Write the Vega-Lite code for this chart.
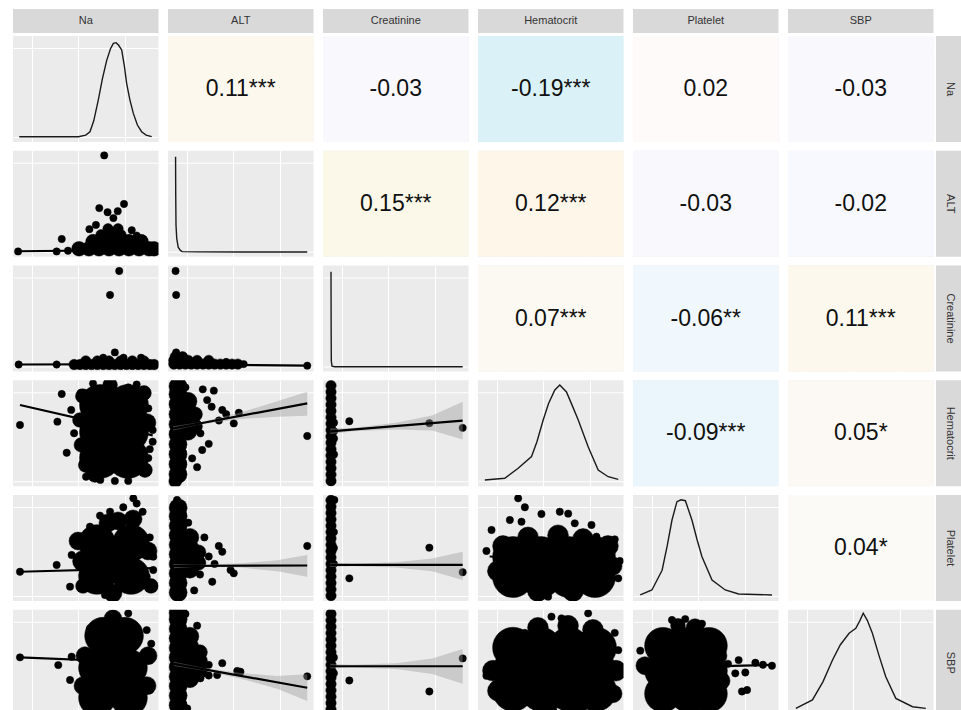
{
"$schema":"https://vega.github.io/schema/vega-lite/v6.json",
"padding":{"left":13,"top":9,"right":0,"bottom":0},
"background":"#FFFFFF",
"config":{"view":{"stroke":null},"axis":{"labels":false,"ticks":false,"domain":false,"grid":true,"gridColor":"#FFFFFF","gridWidth":1,"zindex":0}},
"spacing":3,
"vconcat":[
{"data":{"values":[{"v":"Na"},{"v":"ALT"},{"v":"Creatinine"},{"v":"Hematocrit"},{"v":"Platelet"},{"v":"SBP"}]},
 "facet":{"column":{"field":"v","sort":["Na","ALT","Creatinine","Hematocrit","Platelet","SBP"],"header":null}},
 "spacing":{"column":9},
 "spec":{"width":145.5,"height":24,"view":{"fill":"#D9D9D9","stroke":null},
  "mark":{"type":"text","font":"Liberation Sans","fontSize":11,"color":"#333333"},
  "encoding":{"text":{"field":"v"}}}},
{"hconcat":[
 {"data":{"name":"pairs"},
  "facet":{"row":{"field":"r","sort":["Na","ALT","Creatinine","Hematocrit","Platelet","SBP"],"header":null},
           "column":{"field":"c","sort":["Na","ALT","Creatinine","Hematocrit","Platelet","SBP"],"header":null}},
  "spacing":{"row":8.75,"column":9},
  "resolve":{"axis":{"x":"independent","y":"independent"}},
  "spec":{"width":145.5,"height":106,"view":{"fill":"#EBEBEB","stroke":null},
   "layer":[
    {"transform":[{"filter":"datum.t === 'p'"}],
     "mark":{"type":"point","shape":"circle","filled":true,"fill":"#000000","stroke":"#000000","strokeWidth":0.5,"opacity":1,"fillOpacity":1,"clip":true},
     "encoding":{
      "x":{"field":"x","type":"quantitative","title":null,"scale":{"domain":[0,100],"nice":false,"zero":false},"axis":{"title":null,"values":[13,29,45,61,77,93],"zindex":0}},
      "y":{"field":"y","type":"quantitative","title":null,"scale":{"domain":[0,100],"nice":false,"zero":false},"axis":{"title":null,"values":[5,19,33,47,61,75,89],"zindex":0}},
      "size":{"field":"n","type":"quantitative","legend":null,"scale":{"type":"linear","domain":[0,100],"range":[0,5400],"zero":true}}}},
    {"transform":[{"filter":"datum.t === 'b'"}],
     "mark":{"type":"area","color":"#999999","opacity":0.4,"clip":true},
     "encoding":{
      "x":{"field":"x","type":"quantitative","title":null},
      "y":{"field":"lo","type":"quantitative","title":null},
      "y2":{"field":"hi"}}},
    {"transform":[{"filter":"datum.t === 'l'"}],
     "mark":{"type":"line","color":"#000000","strokeWidth":2.2,"clip":true},
     "encoding":{
      "x":{"field":"x","type":"quantitative","title":null},
      "y":{"field":"y","type":"quantitative","title":null}}},
    {"transform":[{"filter":"datum.t === 'd'"}],
     "mark":{"type":"line","color":"#1A1A1A","strokeWidth":1.4,"clip":true},
     "encoding":{
      "x":{"field":"x","type":"quantitative","title":null},
      "y":{"field":"y","type":"quantitative","title":null}}},
    {"transform":[{"filter":"datum.t === 'c'"}],
     "mark":{"type":"rect"},
     "encoding":{
      "x":{"datum":0,"type":"quantitative"},
      "x2":{"datum":100},
      "y":{"datum":0,"type":"quantitative"},
      "y2":{"datum":100},
      "fill":{"field":"corr","type":"quantitative","legend":null,
        "scale":{"domain":[-0.19,-0.09,-0.06,-0.03,-0.02,0.02,0.04,0.05,0.07,0.11,0.12,0.15],
                 "range":["#DBF1F8","#EAF6FB","#F0F8FD","#F8F8FD","#F8F9FE","#FEFAF9","#FCFAF7","#FCF9F5","#FBF9F1","#FDF8EE","#FDF6E9","#FBF8E9"]}}}},
    {"transform":[{"filter":"datum.t === 'c'"}],
     "mark":{"type":"text","font":"Liberation Sans","fontSize":23,"color":"#111111"},
     "encoding":{
      "x":{"datum":50,"type":"quantitative"},
      "y":{"datum":50,"type":"quantitative"},
      "text":{"field":"lab"}}}
   ]}},
 {"data":{"values":[{"v":"Na"},{"v":"ALT"},{"v":"Creatinine"},{"v":"Hematocrit"},{"v":"Platelet"},{"v":"SBP"}]},
  "facet":{"row":{"field":"v","sort":["Na","ALT","Creatinine","Hematocrit","Platelet","SBP"],"header":null}},
  "spacing":{"row":8.75},
  "spec":{"width":28,"height":106,"view":{"fill":"#D9D9D9","stroke":null},
   "mark":{"type":"text","font":"Liberation Sans","fontSize":11,"color":"#333333","angle":90},
   "encoding":{"text":{"field":"v"}}}}
 ],"spacing":2}
],
"datasets":{"pairs":[
{"r":"Na","c":"ALT","t":"c","corr":0.11,"lab":"0.11***"},
{"r":"Na","c":"Creatinine","t":"c","corr":-0.03,"lab":"-0.03"},
{"r":"Na","c":"Hematocrit","t":"c","corr":-0.19,"lab":"-0.19***"},
{"r":"Na","c":"Platelet","t":"c","corr":0.02,"lab":"0.02"},
{"r":"Na","c":"SBP","t":"c","corr":-0.03,"lab":"-0.03"},
{"r":"ALT","c":"Creatinine","t":"c","corr":0.15,"lab":"0.15***"},
{"r":"ALT","c":"Hematocrit","t":"c","corr":0.12,"lab":"0.12***"},
{"r":"ALT","c":"Platelet","t":"c","corr":-0.03,"lab":"-0.03"},
{"r":"ALT","c":"SBP","t":"c","corr":-0.02,"lab":"-0.02"},
{"r":"Creatinine","c":"Hematocrit","t":"c","corr":0.07,"lab":"0.07***"},
{"r":"Creatinine","c":"Platelet","t":"c","corr":-0.06,"lab":"-0.06**"},
{"r":"Creatinine","c":"SBP","t":"c","corr":0.11,"lab":"0.11***"},
{"r":"Hematocrit","c":"Platelet","t":"c","corr":-0.09,"lab":"-0.09***"},
{"r":"Hematocrit","c":"SBP","t":"c","corr":0.05,"lab":"0.05*"},
{"r":"Platelet","c":"SBP","t":"c","corr":0.04,"lab":"0.04*"},

{"r":"Na","c":"Na","t":"d","x":4.3,"y":5},{"r":"Na","c":"Na","t":"d","x":45,"y":5},{"r":"Na","c":"Na","t":"d","x":50,"y":6.5},{"r":"Na","c":"Na","t":"d","x":52.9,"y":9.7},{"r":"Na","c":"Na","t":"d","x":55.5,"y":20},{"r":"Na","c":"Na","t":"d","x":58.6,"y":39.6},{"r":"Na","c":"Na","t":"d","x":61.5,"y":60},{"r":"Na","c":"Na","t":"d","x":64.4,"y":77},{"r":"Na","c":"Na","t":"d","x":67,"y":88},{"r":"Na","c":"Na","t":"d","x":69,"y":93},{"r":"Na","c":"Na","t":"d","x":70.8,"y":93.7},{"r":"Na","c":"Na","t":"d","x":72.5,"y":91.5},{"r":"Na","c":"Na","t":"d","x":74.7,"y":86.8},{"r":"Na","c":"Na","t":"d","x":76.5,"y":72},{"r":"Na","c":"Na","t":"d","x":78.1,"y":55.4},{"r":"Na","c":"Na","t":"d","x":80.3,"y":40},{"r":"Na","c":"Na","t":"d","x":82.7,"y":27},{"r":"Na","c":"Na","t":"d","x":85.5,"y":16},{"r":"Na","c":"Na","t":"d","x":88.4,"y":9.7},{"r":"Na","c":"Na","t":"d","x":91.5,"y":6.5},{"r":"Na","c":"Na","t":"d","x":95.3,"y":5},
{"r":"ALT","c":"ALT","t":"d","x":5.2,"y":94.4},{"r":"ALT","c":"ALT","t":"d","x":5.3,"y":60},{"r":"ALT","c":"ALT","t":"d","x":5.5,"y":30},{"r":"ALT","c":"ALT","t":"d","x":6,"y":17.4},{"r":"ALT","c":"ALT","t":"d","x":7,"y":9},{"r":"ALT","c":"ALT","t":"d","x":8.5,"y":6},{"r":"ALT","c":"ALT","t":"d","x":9.8,"y":4.8},{"r":"ALT","c":"ALT","t":"d","x":20,"y":4.6},{"r":"ALT","c":"ALT","t":"d","x":50,"y":4.5},{"r":"ALT","c":"ALT","t":"d","x":95.7,"y":4.5},
{"r":"Creatinine","c":"Creatinine","t":"d","x":5.5,"y":94},{"r":"Creatinine","c":"Creatinine","t":"d","x":5.6,"y":40},{"r":"Creatinine","c":"Creatinine","t":"d","x":5.7,"y":10},{"r":"Creatinine","c":"Creatinine","t":"d","x":6.2,"y":5},{"r":"Creatinine","c":"Creatinine","t":"d","x":8,"y":4.5},{"r":"Creatinine","c":"Creatinine","t":"d","x":96,"y":4.5},
{"r":"Hematocrit","c":"Hematocrit","t":"d","x":4.7,"y":5.9},{"r":"Hematocrit","c":"Hematocrit","t":"d","x":18.4,"y":7.5},{"r":"Hematocrit","c":"Hematocrit","t":"d","x":27.6,"y":17},{"r":"Hematocrit","c":"Hematocrit","t":"d","x":36.8,"y":28},{"r":"Hematocrit","c":"Hematocrit","t":"d","x":40.5,"y":42},{"r":"Hematocrit","c":"Hematocrit","t":"d","x":44.8,"y":62.5},{"r":"Hematocrit","c":"Hematocrit","t":"d","x":48.5,"y":78},{"r":"Hematocrit","c":"Hematocrit","t":"d","x":52.8,"y":90.8},{"r":"Hematocrit","c":"Hematocrit","t":"d","x":56.2,"y":95.5},{"r":"Hematocrit","c":"Hematocrit","t":"d","x":60.8,"y":89},{"r":"Hematocrit","c":"Hematocrit","t":"d","x":64.5,"y":77},{"r":"Hematocrit","c":"Hematocrit","t":"d","x":68.9,"y":62.5},{"r":"Hematocrit","c":"Hematocrit","t":"d","x":75.7,"y":37.3},{"r":"Hematocrit","c":"Hematocrit","t":"d","x":82.6,"y":15.3},{"r":"Hematocrit","c":"Hematocrit","t":"d","x":89.5,"y":9},{"r":"Hematocrit","c":"Hematocrit","t":"d","x":96.4,"y":6.5},
{"r":"Platelet","c":"Platelet","t":"d","x":5,"y":5.7},{"r":"Platelet","c":"Platelet","t":"d","x":13,"y":10.4},{"r":"Platelet","c":"Platelet","t":"d","x":20,"y":29},{"r":"Platelet","c":"Platelet","t":"d","x":23.5,"y":52},{"r":"Platelet","c":"Platelet","t":"d","x":26.8,"y":76.4},{"r":"Platelet","c":"Platelet","t":"d","x":30.2,"y":93.7},{"r":"Platelet","c":"Platelet","t":"d","x":33,"y":95.5},{"r":"Platelet","c":"Platelet","t":"d","x":36,"y":94.6},{"r":"Platelet","c":"Platelet","t":"d","x":40.5,"y":76.4},{"r":"Platelet","c":"Platelet","t":"d","x":44,"y":58},{"r":"Platelet","c":"Platelet","t":"d","x":47.4,"y":41.8},{"r":"Platelet","c":"Platelet","t":"d","x":54.3,"y":19.8},{"r":"Platelet","c":"Platelet","t":"d","x":63.4,"y":10.4},{"r":"Platelet","c":"Platelet","t":"d","x":72.6,"y":6.6},{"r":"Platelet","c":"Platelet","t":"d","x":95.5,"y":5.7},
{"r":"SBP","c":"SBP","t":"d","x":5.4,"y":7},{"r":"SBP","c":"SBP","t":"d","x":16.8,"y":14.9},{"r":"SBP","c":"SBP","t":"d","x":24,"y":32},{"r":"SBP","c":"SBP","t":"d","x":30.6,"y":52.6},{"r":"SBP","c":"SBP","t":"d","x":36,"y":67},{"r":"SBP","c":"SBP","t":"d","x":42,"y":77.8},{"r":"SBP","c":"SBP","t":"d","x":46.6,"y":82.5},{"r":"SBP","c":"SBP","t":"d","x":49.5,"y":90},{"r":"SBP","c":"SBP","t":"d","x":51.7,"y":96.7},{"r":"SBP","c":"SBP","t":"d","x":54.5,"y":90},{"r":"SBP","c":"SBP","t":"d","x":58,"y":77.8},{"r":"SBP","c":"SBP","t":"d","x":62.5,"y":57},{"r":"SBP","c":"SBP","t":"d","x":67.2,"y":36.8},{"r":"SBP","c":"SBP","t":"d","x":74.1,"y":16.4},{"r":"SBP","c":"SBP","t":"d","x":85.6,"y":8.5},{"r":"SBP","c":"SBP","t":"d","x":94.7,"y":7},

{"r":"ALT","c":"Na","t":"p","x":62.7,"y":95.6,"n":1},{"r":"ALT","c":"Na","t":"p","x":59.3,"y":45.9,"n":1},{"r":"ALT","c":"Na","t":"p","x":76.3,"y":49.8,"n":1},{"r":"ALT","c":"Na","t":"p","x":69,"y":36.5,"n":1},{"r":"ALT","c":"Na","t":"p","x":52.5,"y":26,"n":1},{"r":"ALT","c":"Na","t":"p","x":33.5,"y":16.7,"n":1},{"r":"ALT","c":"Na","t":"p","x":81.6,"y":25,"n":1},{"r":"ALT","c":"Na","t":"p","x":89.6,"y":16.5,"n":1},{"r":"ALT","c":"Na","t":"p","x":3.5,"y":5,"n":1},{"r":"ALT","c":"Na","t":"p","x":30,"y":5,"n":1},{"r":"ALT","c":"Na","t":"p","x":65,"y":42,"n":1},{"r":"ALT","c":"Na","t":"p","x":72,"y":43,"n":1},{"r":"ALT","c":"Na","t":"p","x":57,"y":30,"n":1},{"r":"ALT","c":"Na","t":"p","x":85,"y":20,"n":1},{"r":"ALT","c":"Na","t":"p","x":37.8,"y":5.7,"n":1},{"r":"ALT","c":"Na","t":"p","x":44,"y":6,"n":1},
{"r":"ALT","c":"Na","t":"p","x":45.4,"y":7.5,"n":4},{"r":"ALT","c":"Na","t":"p","x":52.2,"y":7.5,"n":4},{"r":"ALT","c":"Na","t":"p","x":59.1,"y":7.5,"n":4},{"r":"ALT","c":"Na","t":"p","x":66,"y":7.5,"n":4},{"r":"ALT","c":"Na","t":"p","x":72.9,"y":7.5,"n":4},{"r":"ALT","c":"Na","t":"p","x":79.7,"y":7.5,"n":4},{"r":"ALT","c":"Na","t":"p","x":86.6,"y":7.5,"n":4},{"r":"ALT","c":"Na","t":"p","x":93.5,"y":7.5,"n":4},{"r":"ALT","c":"Na","t":"p","x":96.9,"y":7.5,"n":4},
{"r":"ALT","c":"Na","t":"p","x":55,"y":14.2,"n":4},{"r":"ALT","c":"Na","t":"p","x":63.2,"y":14.2,"n":4},{"r":"ALT","c":"Na","t":"p","x":71.5,"y":14.2,"n":4},{"r":"ALT","c":"Na","t":"p","x":79.7,"y":14.2,"n":4},{"r":"ALT","c":"Na","t":"p","x":88,"y":14.2,"n":4},
{"r":"ALT","c":"Na","t":"p","x":60.5,"y":20.8,"n":2},{"r":"ALT","c":"Na","t":"p","x":67.4,"y":20.8,"n":2},{"r":"ALT","c":"Na","t":"p","x":74.2,"y":20.8,"n":2},{"r":"ALT","c":"Na","t":"p","x":65.3,"y":26.4,"n":2},{"r":"ALT","c":"Na","t":"p","x":72.2,"y":26.4,"n":2},
{"r":"ALT","c":"Na","t":"l","x":3.5,"y":5.2},{"r":"ALT","c":"Na","t":"l","x":97,"y":6.5},

{"r":"Creatinine","c":"Na","t":"p","x":73,"y":94.8,"n":1},{"r":"Creatinine","c":"Na","t":"p","x":66.7,"y":72.2,"n":1},{"r":"Creatinine","c":"Na","t":"p","x":70,"y":18,"n":1},{"r":"Creatinine","c":"Na","t":"p","x":3.9,"y":6.6,"n":1},{"r":"Creatinine","c":"Na","t":"p","x":30,"y":6.6,"n":1},{"r":"Creatinine","c":"Na","t":"p","x":62,"y":13,"n":1},{"r":"Creatinine","c":"Na","t":"p","x":76,"y":13,"n":1},{"r":"Creatinine","c":"Na","t":"p","x":88,"y":13,"n":1},
{"r":"Creatinine","c":"Na","t":"p","x":42,"y":6.6,"n":2},{"r":"Creatinine","c":"Na","t":"p","x":46,"y":6.6,"n":2},{"r":"Creatinine","c":"Na","t":"p","x":50,"y":6.6,"n":2},{"r":"Creatinine","c":"Na","t":"p","x":54,"y":6.6,"n":2},{"r":"Creatinine","c":"Na","t":"p","x":58,"y":6.6,"n":2},{"r":"Creatinine","c":"Na","t":"p","x":62,"y":6.6,"n":2},{"r":"Creatinine","c":"Na","t":"p","x":66,"y":6.6,"n":2},{"r":"Creatinine","c":"Na","t":"p","x":70,"y":6.6,"n":2},{"r":"Creatinine","c":"Na","t":"p","x":74,"y":6.6,"n":2},{"r":"Creatinine","c":"Na","t":"p","x":78,"y":6.6,"n":2},{"r":"Creatinine","c":"Na","t":"p","x":82,"y":6.6,"n":2},{"r":"Creatinine","c":"Na","t":"p","x":86,"y":6.6,"n":2},{"r":"Creatinine","c":"Na","t":"p","x":90,"y":6.6,"n":2},{"r":"Creatinine","c":"Na","t":"p","x":94,"y":6.6,"n":2},{"r":"Creatinine","c":"Na","t":"p","x":97,"y":6.6,"n":2},
{"r":"Creatinine","c":"Na","t":"p","x":50,"y":10,"n":2},{"r":"Creatinine","c":"Na","t":"p","x":58,"y":10,"n":2},{"r":"Creatinine","c":"Na","t":"p","x":66,"y":10,"n":2},{"r":"Creatinine","c":"Na","t":"p","x":74,"y":10,"n":2},{"r":"Creatinine","c":"Na","t":"p","x":82,"y":10,"n":2},{"r":"Creatinine","c":"Na","t":"p","x":90,"y":10,"n":2},
{"r":"Creatinine","c":"Na","t":"l","x":3.9,"y":6.6},{"r":"Creatinine","c":"Na","t":"l","x":97,"y":7},

{"r":"Creatinine","c":"ALT","t":"p","x":5.2,"y":94.8,"n":1},{"r":"Creatinine","c":"ALT","t":"p","x":5.6,"y":72.2,"n":1},{"r":"Creatinine","c":"ALT","t":"p","x":5.6,"y":18,"n":1},{"r":"Creatinine","c":"ALT","t":"p","x":95.7,"y":5.5,"n":1},{"r":"Creatinine","c":"ALT","t":"p","x":40,"y":9,"n":1},{"r":"Creatinine","c":"ALT","t":"p","x":52,"y":7,"n":1},
{"r":"Creatinine","c":"ALT","t":"p","x":4,"y":7,"n":2},{"r":"Creatinine","c":"ALT","t":"p","x":8,"y":7,"n":2},{"r":"Creatinine","c":"ALT","t":"p","x":12,"y":7,"n":2},{"r":"Creatinine","c":"ALT","t":"p","x":16,"y":7,"n":2},{"r":"Creatinine","c":"ALT","t":"p","x":20,"y":7,"n":2},{"r":"Creatinine","c":"ALT","t":"p","x":24,"y":7,"n":2},{"r":"Creatinine","c":"ALT","t":"p","x":28,"y":7,"n":2},{"r":"Creatinine","c":"ALT","t":"p","x":32,"y":7,"n":2},{"r":"Creatinine","c":"ALT","t":"p","x":36,"y":7,"n":2},{"r":"Creatinine","c":"ALT","t":"p","x":40,"y":7,"n":2},{"r":"Creatinine","c":"ALT","t":"p","x":44,"y":7,"n":2},{"r":"Creatinine","c":"ALT","t":"p","x":48,"y":7,"n":2},
{"r":"Creatinine","c":"ALT","t":"p","x":4,"y":10.5,"n":2},{"r":"Creatinine","c":"ALT","t":"p","x":9,"y":10.5,"n":2},{"r":"Creatinine","c":"ALT","t":"p","x":14,"y":10.5,"n":2},{"r":"Creatinine","c":"ALT","t":"p","x":20,"y":10.5,"n":2},{"r":"Creatinine","c":"ALT","t":"p","x":28,"y":10.5,"n":2},{"r":"Creatinine","c":"ALT","t":"p","x":5,"y":14,"n":2},{"r":"Creatinine","c":"ALT","t":"p","x":10,"y":14,"n":2},
{"r":"Creatinine","c":"ALT","t":"l","x":4,"y":6.8},{"r":"Creatinine","c":"ALT","t":"l","x":95.7,"y":5.5},

{"r":"Hematocrit","c":"Na","t":"p","x":59.8,"y":76.7,"n":31},{"r":"Hematocrit","c":"Na","t":"p","x":79,"y":76.7,"n":31},{"r":"Hematocrit","c":"Na","t":"p","x":59.8,"y":51.2,"n":31},{"r":"Hematocrit","c":"Na","t":"p","x":79,"y":51.2,"n":31},{"r":"Hematocrit","c":"Na","t":"p","x":59.8,"y":26.7,"n":31},{"r":"Hematocrit","c":"Na","t":"p","x":79,"y":26.7,"n":31},
{"r":"Hematocrit","c":"Na","t":"p","x":46,"y":62.5,"n":4},{"r":"Hematocrit","c":"Na","t":"p","x":47,"y":39,"n":4},{"r":"Hematocrit","c":"Na","t":"p","x":56.4,"y":10.6,"n":4},{"r":"Hematocrit","c":"Na","t":"p","x":90.7,"y":15.3,"n":4},{"r":"Hematocrit","c":"Na","t":"p","x":66.7,"y":95.5,"n":4},{"r":"Hematocrit","c":"Na","t":"p","x":90,"y":88,"n":4},{"r":"Hematocrit","c":"Na","t":"p","x":48,"y":85,"n":4},{"r":"Hematocrit","c":"Na","t":"p","x":50,"y":20,"n":4},{"r":"Hematocrit","c":"Na","t":"p","x":92,"y":60,"n":6},
{"r":"Hematocrit","c":"Na","t":"p","x":4.8,"y":57.8,"n":1},{"r":"Hematocrit","c":"Na","t":"p","x":33.5,"y":87,"n":1},{"r":"Hematocrit","c":"Na","t":"p","x":46.7,"y":88.2,"n":1},{"r":"Hematocrit","c":"Na","t":"p","x":30.5,"y":60.9,"n":1},{"r":"Hematocrit","c":"Na","t":"p","x":36.9,"y":31.6,"n":1},{"r":"Hematocrit","c":"Na","t":"p","x":50.2,"y":9,"n":1},{"r":"Hematocrit","c":"Na","t":"p","x":79.2,"y":5,"n":1},{"r":"Hematocrit","c":"Na","t":"p","x":79.2,"y":93.3,"n":1},{"r":"Hematocrit","c":"Na","t":"p","x":93,"y":73.5,"n":1},{"r":"Hematocrit","c":"Na","t":"p","x":96,"y":53,"n":1},{"r":"Hematocrit","c":"Na","t":"p","x":96,"y":42,"n":1},{"r":"Hematocrit","c":"Na","t":"p","x":93,"y":26.6,"n":1},{"r":"Hematocrit","c":"Na","t":"p","x":40,"y":72,"n":1},{"r":"Hematocrit","c":"Na","t":"p","x":42,"y":50,"n":1},{"r":"Hematocrit","c":"Na","t":"p","x":55,"y":97,"n":1},{"r":"Hematocrit","c":"Na","t":"p","x":85,"y":96,"n":1},{"r":"Hematocrit","c":"Na","t":"p","x":94,"y":35,"n":1},{"r":"Hematocrit","c":"Na","t":"p","x":60,"y":6,"n":1},{"r":"Hematocrit","c":"Na","t":"p","x":70,"y":5,"n":1},
{"r":"Hematocrit","c":"Na","t":"l","x":4.8,"y":76.7},{"r":"Hematocrit","c":"Na","t":"l","x":96,"y":48},

{"r":"Hematocrit","c":"ALT","t":"p","x":6.9,"y":11.3,"n":6},{"r":"Hematocrit","c":"ALT","t":"p","x":6.9,"y":20.8,"n":6},{"r":"Hematocrit","c":"ALT","t":"p","x":6.9,"y":30.2,"n":6},{"r":"Hematocrit","c":"ALT","t":"p","x":6.9,"y":39.6,"n":6},{"r":"Hematocrit","c":"ALT","t":"p","x":6.9,"y":49.1,"n":6},{"r":"Hematocrit","c":"ALT","t":"p","x":6.9,"y":58.5,"n":6},{"r":"Hematocrit","c":"ALT","t":"p","x":6.9,"y":67.9,"n":6},{"r":"Hematocrit","c":"ALT","t":"p","x":6.9,"y":77.4,"n":6},{"r":"Hematocrit","c":"ALT","t":"p","x":6.9,"y":86.8,"n":6},{"r":"Hematocrit","c":"ALT","t":"p","x":6.9,"y":94.3,"n":6},
{"r":"Hematocrit","c":"ALT","t":"p","x":13.7,"y":51.9,"n":6},{"r":"Hematocrit","c":"ALT","t":"p","x":13.7,"y":61.3,"n":6},{"r":"Hematocrit","c":"ALT","t":"p","x":13.7,"y":70.8,"n":6},{"r":"Hematocrit","c":"ALT","t":"p","x":13.7,"y":80.2,"n":6},{"r":"Hematocrit","c":"ALT","t":"p","x":18.6,"y":56.6,"n":4},{"r":"Hematocrit","c":"ALT","t":"p","x":18.6,"y":67.9,"n":4},{"r":"Hematocrit","c":"ALT","t":"p","x":5,"y":4.7,"n":3},
{"r":"Hematocrit","c":"ALT","t":"p","x":12,"y":93.3,"n":1},{"r":"Hematocrit","c":"ALT","t":"p","x":23.9,"y":91.4,"n":1},{"r":"Hematocrit","c":"ALT","t":"p","x":31.5,"y":90.2,"n":1},{"r":"Hematocrit","c":"ALT","t":"p","x":26.9,"y":81.3,"n":1},{"r":"Hematocrit","c":"ALT","t":"p","x":22.3,"y":49.9,"n":1},{"r":"Hematocrit","c":"ALT","t":"p","x":23.5,"y":34.2,"n":1},{"r":"Hematocrit","c":"ALT","t":"p","x":16.6,"y":26.3,"n":1},{"r":"Hematocrit","c":"ALT","t":"p","x":37.3,"y":71.9,"n":1},{"r":"Hematocrit","c":"ALT","t":"p","x":45.2,"y":59.3,"n":1},{"r":"Hematocrit","c":"ALT","t":"p","x":48.7,"y":69.3,"n":1},{"r":"Hematocrit","c":"ALT","t":"p","x":95.7,"y":47.4,"n":1},{"r":"Hematocrit","c":"ALT","t":"p","x":30,"y":75,"n":1},{"r":"Hematocrit","c":"ALT","t":"p","x":35,"y":62,"n":1},{"r":"Hematocrit","c":"ALT","t":"p","x":40,"y":68,"n":1},{"r":"Hematocrit","c":"ALT","t":"p","x":28,"y":40,"n":1},{"r":"Hematocrit","c":"ALT","t":"p","x":20,"y":18,"n":1},
{"r":"Hematocrit","c":"ALT","t":"l","x":3.4,"y":54.5},{"r":"Hematocrit","c":"ALT","t":"l","x":95.7,"y":78.2},
{"r":"Hematocrit","c":"ALT","t":"b","x":3.4,"lo":52.5,"hi":56.5},{"r":"Hematocrit","c":"ALT","t":"b","x":22,"lo":58.2,"hi":60.4},{"r":"Hematocrit","c":"ALT","t":"b","x":50,"lo":63.5,"hi":69.5},{"r":"Hematocrit","c":"ALT","t":"b","x":75,"lo":65.5,"hi":80.3},{"r":"Hematocrit","c":"ALT","t":"b","x":95.7,"lo":66.4,"hi":89.2},

{"r":"Hematocrit","c":"Creatinine","t":"p","x":18.1,"y":61.3,"n":1},{"r":"Hematocrit","c":"Creatinine","t":"p","x":73.1,"y":59.5,"n":1},{"r":"Hematocrit","c":"Creatinine","t":"p","x":96,"y":55.1,"n":1},
{"r":"Hematocrit","c":"Creatinine","t":"p","x":5.5,"y":5,"n":2},{"r":"Hematocrit","c":"Creatinine","t":"p","x":5.5,"y":11,"n":2},{"r":"Hematocrit","c":"Creatinine","t":"p","x":5.5,"y":17,"n":2},{"r":"Hematocrit","c":"Creatinine","t":"p","x":5.5,"y":23,"n":2},{"r":"Hematocrit","c":"Creatinine","t":"p","x":5.5,"y":29,"n":2},{"r":"Hematocrit","c":"Creatinine","t":"p","x":5.5,"y":35,"n":2},{"r":"Hematocrit","c":"Creatinine","t":"p","x":5.5,"y":41,"n":2},{"r":"Hematocrit","c":"Creatinine","t":"p","x":5.5,"y":47,"n":2},{"r":"Hematocrit","c":"Creatinine","t":"p","x":5.5,"y":53,"n":2},{"r":"Hematocrit","c":"Creatinine","t":"p","x":5.5,"y":59,"n":2},{"r":"Hematocrit","c":"Creatinine","t":"p","x":5.5,"y":65,"n":2},{"r":"Hematocrit","c":"Creatinine","t":"p","x":5.5,"y":71,"n":2},{"r":"Hematocrit","c":"Creatinine","t":"p","x":5.5,"y":77,"n":2},{"r":"Hematocrit","c":"Creatinine","t":"p","x":5.5,"y":83,"n":2},{"r":"Hematocrit","c":"Creatinine","t":"p","x":5.5,"y":89,"n":2},{"r":"Hematocrit","c":"Creatinine","t":"p","x":5.5,"y":95,"n":2},
{"r":"Hematocrit","c":"Creatinine","t":"p","x":7.6,"y":30,"n":1},{"r":"Hematocrit","c":"Creatinine","t":"p","x":7.6,"y":45,"n":1},{"r":"Hematocrit","c":"Creatinine","t":"p","x":7.6,"y":52,"n":1},{"r":"Hematocrit","c":"Creatinine","t":"p","x":7.6,"y":60,"n":1},
{"r":"Hematocrit","c":"Creatinine","t":"l","x":5,"y":51.8},{"r":"Hematocrit","c":"Creatinine","t":"l","x":96,"y":61.9},
{"r":"Hematocrit","c":"Creatinine","t":"b","x":5,"lo":49,"hi":54.5},{"r":"Hematocrit","c":"Creatinine","t":"b","x":20,"lo":52,"hi":55},{"r":"Hematocrit","c":"Creatinine","t":"b","x":50,"lo":53.5,"hi":60},{"r":"Hematocrit","c":"Creatinine","t":"b","x":75,"lo":52.5,"hi":66.7},{"r":"Hematocrit","c":"Creatinine","t":"b","x":96,"lo":44,"hi":79.7},

{"r":"Platelet","c":"Na","t":"p","x":57.7,"y":54.7,"n":25},{"r":"Platelet","c":"Na","t":"p","x":81.1,"y":54.7,"n":25},{"r":"Platelet","c":"Na","t":"p","x":57.7,"y":23.6,"n":25},{"r":"Platelet","c":"Na","t":"p","x":81.1,"y":23.6,"n":25},{"r":"Platelet","c":"Na","t":"p","x":69.4,"y":39,"n":12},
{"r":"Platelet","c":"Na","t":"p","x":72.2,"y":75.5,"n":6},{"r":"Platelet","c":"Na","t":"p","x":82.5,"y":77.4,"n":6},{"r":"Platelet","c":"Na","t":"p","x":65.3,"y":73.6,"n":6},{"r":"Platelet","c":"Na","t":"p","x":92.8,"y":47.2,"n":6},{"r":"Platelet","c":"Na","t":"p","x":68.7,"y":7.5,"n":6},{"r":"Platelet","c":"Na","t":"p","x":44.7,"y":56.6,"n":6},{"r":"Platelet","c":"Na","t":"p","x":48.1,"y":37.7,"n":8},{"r":"Platelet","c":"Na","t":"p","x":48.1,"y":14.2,"n":4},{"r":"Platelet","c":"Na","t":"p","x":94.8,"y":14.2,"n":4},
{"r":"Platelet","c":"Na","t":"p","x":82.7,"y":96.9,"n":1},{"r":"Platelet","c":"Na","t":"p","x":75.8,"y":88.4,"n":1},{"r":"Platelet","c":"Na","t":"p","x":66.7,"y":84.2,"n":1},{"r":"Platelet","c":"Na","t":"p","x":59.8,"y":80.5,"n":1},{"r":"Platelet","c":"Na","t":"p","x":89.1,"y":84.2,"n":1},{"r":"Platelet","c":"Na","t":"p","x":52.9,"y":70.1,"n":1},{"r":"Platelet","c":"Na","t":"p","x":40.3,"y":43.4,"n":1},{"r":"Platelet","c":"Na","t":"p","x":30,"y":34,"n":1},{"r":"Platelet","c":"Na","t":"p","x":39.2,"y":13.5,"n":1},{"r":"Platelet","c":"Na","t":"p","x":63.2,"y":5.7,"n":1},{"r":"Platelet","c":"Na","t":"p","x":96.4,"y":29.2,"n":1},{"r":"Platelet","c":"Na","t":"p","x":96.4,"y":41.8,"n":1},{"r":"Platelet","c":"Na","t":"p","x":91.9,"y":22.9,"n":1},{"r":"Platelet","c":"Na","t":"p","x":72.4,"y":12,"n":1},{"r":"Platelet","c":"Na","t":"p","x":4.8,"y":27.6,"n":1},{"r":"Platelet","c":"Na","t":"p","x":45,"y":55,"n":1},{"r":"Platelet","c":"Na","t":"p","x":48,"y":25,"n":1},{"r":"Platelet","c":"Na","t":"p","x":94,"y":60,"n":1},{"r":"Platelet","c":"Na","t":"p","x":85,"y":92,"n":1},
{"r":"Platelet","c":"Na","t":"l","x":4.8,"y":27.6},{"r":"Platelet","c":"Na","t":"l","x":96.4,"y":31},

{"r":"Platelet","c":"ALT","t":"p","x":7,"y":8,"n":6},{"r":"Platelet","c":"ALT","t":"p","x":7,"y":17,"n":6},{"r":"Platelet","c":"ALT","t":"p","x":7,"y":26,"n":6},{"r":"Platelet","c":"ALT","t":"p","x":7,"y":35,"n":6},{"r":"Platelet","c":"ALT","t":"p","x":7,"y":44,"n":6},{"r":"Platelet","c":"ALT","t":"p","x":7,"y":53,"n":6},{"r":"Platelet","c":"ALT","t":"p","x":7,"y":62,"n":6},{"r":"Platelet","c":"ALT","t":"p","x":7,"y":71,"n":6},{"r":"Platelet","c":"ALT","t":"p","x":7,"y":80,"n":6},{"r":"Platelet","c":"ALT","t":"p","x":7,"y":88,"n":6},
{"r":"Platelet","c":"ALT","t":"p","x":15,"y":30,"n":6},{"r":"Platelet","c":"ALT","t":"p","x":15,"y":40,"n":6},{"r":"Platelet","c":"ALT","t":"p","x":15,"y":50,"n":6},{"r":"Platelet","c":"ALT","t":"p","x":15,"y":60,"n":6},{"r":"Platelet","c":"ALT","t":"p","x":21,"y":36,"n":4},{"r":"Platelet","c":"ALT","t":"p","x":21,"y":46,"n":4},
{"r":"Platelet","c":"ALT","t":"p","x":6.2,"y":95.3,"n":1},{"r":"Platelet","c":"ALT","t":"p","x":13.9,"y":73.9,"n":1},{"r":"Platelet","c":"ALT","t":"p","x":34.9,"y":51.9,"n":1},{"r":"Platelet","c":"ALT","t":"p","x":37.3,"y":46.5,"n":1},{"r":"Platelet","c":"ALT","t":"p","x":43,"y":29.2,"n":1},{"r":"Platelet","c":"ALT","t":"p","x":45.2,"y":26.1,"n":1},{"r":"Platelet","c":"ALT","t":"p","x":30.4,"y":18.2,"n":1},{"r":"Platelet","c":"ALT","t":"p","x":95.7,"y":51.9,"n":1},{"r":"Platelet","c":"ALT","t":"p","x":28,"y":42,"n":1},{"r":"Platelet","c":"ALT","t":"p","x":32,"y":35,"n":1},{"r":"Platelet","c":"ALT","t":"p","x":25,"y":60,"n":1},{"r":"Platelet","c":"ALT","t":"p","x":22,"y":25,"n":1},{"r":"Platelet","c":"ALT","t":"p","x":18,"y":10,"n":1},
{"r":"Platelet","c":"ALT","t":"l","x":4,"y":33},{"r":"Platelet","c":"ALT","t":"l","x":95.7,"y":33.5},
{"r":"Platelet","c":"ALT","t":"b","x":4,"lo":31,"hi":35},{"r":"Platelet","c":"ALT","t":"b","x":20,"lo":32.3,"hi":34.3},{"r":"Platelet","c":"ALT","t":"b","x":50,"lo":31.5,"hi":35.5},{"r":"Platelet","c":"ALT","t":"b","x":75,"lo":28,"hi":38.5},{"r":"Platelet","c":"ALT","t":"b","x":95.7,"lo":22.9,"hi":43.4},

{"r":"Platelet","c":"Creatinine","t":"p","x":7.8,"y":95.3,"n":1},{"r":"Platelet","c":"Creatinine","t":"p","x":73.1,"y":50.3,"n":1},{"r":"Platelet","c":"Creatinine","t":"p","x":18.1,"y":21.4,"n":1},{"r":"Platelet","c":"Creatinine","t":"p","x":96,"y":27.1,"n":1},
{"r":"Platelet","c":"Creatinine","t":"p","x":5.5,"y":5,"n":2},{"r":"Platelet","c":"Creatinine","t":"p","x":5.5,"y":11,"n":2},{"r":"Platelet","c":"Creatinine","t":"p","x":5.5,"y":17,"n":2},{"r":"Platelet","c":"Creatinine","t":"p","x":5.5,"y":23,"n":2},{"r":"Platelet","c":"Creatinine","t":"p","x":5.5,"y":29,"n":2},{"r":"Platelet","c":"Creatinine","t":"p","x":5.5,"y":35,"n":2},{"r":"Platelet","c":"Creatinine","t":"p","x":5.5,"y":41,"n":2},{"r":"Platelet","c":"Creatinine","t":"p","x":5.5,"y":47,"n":2},{"r":"Platelet","c":"Creatinine","t":"p","x":5.5,"y":53,"n":2},{"r":"Platelet","c":"Creatinine","t":"p","x":5.5,"y":59,"n":2},{"r":"Platelet","c":"Creatinine","t":"p","x":5.5,"y":65,"n":2},{"r":"Platelet","c":"Creatinine","t":"p","x":5.5,"y":71,"n":2},{"r":"Platelet","c":"Creatinine","t":"p","x":5.5,"y":77,"n":2},{"r":"Platelet","c":"Creatinine","t":"p","x":5.5,"y":83,"n":2},{"r":"Platelet","c":"Creatinine","t":"p","x":5.5,"y":89,"n":2},{"r":"Platelet","c":"Creatinine","t":"p","x":5.5,"y":95,"n":2},
{"r":"Platelet","c":"Creatinine","t":"p","x":7.5,"y":35,"n":1},{"r":"Platelet","c":"Creatinine","t":"p","x":7.5,"y":50,"n":1},{"r":"Platelet","c":"Creatinine","t":"p","x":7.5,"y":65,"n":1},
{"r":"Platelet","c":"Creatinine","t":"l","x":5,"y":34},{"r":"Platelet","c":"Creatinine","t":"l","x":96,"y":34},
{"r":"Platelet","c":"Creatinine","t":"b","x":5,"lo":32,"hi":36},{"r":"Platelet","c":"Creatinine","t":"b","x":20,"lo":33,"hi":35},{"r":"Platelet","c":"Creatinine","t":"b","x":50,"lo":31.5,"hi":36.5},{"r":"Platelet","c":"Creatinine","t":"b","x":75,"lo":28,"hi":40},{"r":"Platelet","c":"Creatinine","t":"b","x":96,"lo":19.8,"hi":46.5},

{"r":"Platelet","c":"Hematocrit","t":"p","x":24.1,"y":41.5,"n":31},{"r":"Platelet","c":"Hematocrit","t":"p","x":43.3,"y":41.5,"n":31},{"r":"Platelet","c":"Hematocrit","t":"p","x":62.5,"y":41.5,"n":31},{"r":"Platelet","c":"Hematocrit","t":"p","x":80.4,"y":41.5,"n":31},{"r":"Platelet","c":"Hematocrit","t":"p","x":24.1,"y":22.6,"n":31},{"r":"Platelet","c":"Hematocrit","t":"p","x":43.3,"y":22.6,"n":31},{"r":"Platelet","c":"Hematocrit","t":"p","x":62.5,"y":22.6,"n":31},{"r":"Platelet","c":"Hematocrit","t":"p","x":80.4,"y":22.6,"n":31},
{"r":"Platelet","c":"Hematocrit","t":"p","x":34.4,"y":60,"n":8},{"r":"Platelet","c":"Hematocrit","t":"p","x":55,"y":62,"n":8},{"r":"Platelet","c":"Hematocrit","t":"p","x":72.2,"y":58.5,"n":8},{"r":"Platelet","c":"Hematocrit","t":"p","x":89.3,"y":51.9,"n":8},{"r":"Platelet","c":"Hematocrit","t":"p","x":17.2,"y":51.9,"n":8},{"r":"Platelet","c":"Hematocrit","t":"p","x":41.2,"y":9.4,"n":8},{"r":"Platelet","c":"Hematocrit","t":"p","x":65.3,"y":9.4,"n":8},{"r":"Platelet","c":"Hematocrit","t":"p","x":13.7,"y":28.3,"n":8},{"r":"Platelet","c":"Hematocrit","t":"p","x":92.8,"y":33,"n":6},{"r":"Platelet","c":"Hematocrit","t":"p","x":82.5,"y":11.3,"n":4},{"r":"Platelet","c":"Hematocrit","t":"p","x":20.6,"y":11.3,"n":4},
{"r":"Platelet","c":"Hematocrit","t":"p","x":27.6,"y":96.9,"n":1},{"r":"Platelet","c":"Hematocrit","t":"p","x":32.2,"y":88.4,"n":1},{"r":"Platelet","c":"Hematocrit","t":"p","x":21.9,"y":76.4,"n":1},{"r":"Platelet","c":"Hematocrit","t":"p","x":29.9,"y":74.8,"n":1},{"r":"Platelet","c":"Hematocrit","t":"p","x":43.6,"y":82.1,"n":1},{"r":"Platelet","c":"Hematocrit","t":"p","x":56.2,"y":84.2,"n":1},{"r":"Platelet","c":"Hematocrit","t":"p","x":62,"y":82.4,"n":1},{"r":"Platelet","c":"Hematocrit","t":"p","x":66.5,"y":73.3,"n":1},{"r":"Platelet","c":"Hematocrit","t":"p","x":78,"y":71.7,"n":1},{"r":"Platelet","c":"Hematocrit","t":"p","x":81.4,"y":60.7,"n":1},{"r":"Platelet","c":"Hematocrit","t":"p","x":94,"y":58.2,"n":1},{"r":"Platelet","c":"Hematocrit","t":"p","x":9.3,"y":67,"n":1},{"r":"Platelet","c":"Hematocrit","t":"p","x":9.3,"y":27.6,"n":1},{"r":"Platelet","c":"Hematocrit","t":"p","x":48.2,"y":4.1,"n":1},{"r":"Platelet","c":"Hematocrit","t":"p","x":96.4,"y":21.4,"n":1},{"r":"Platelet","c":"Hematocrit","t":"p","x":5.8,"y":47.2,"n":1},{"r":"Platelet","c":"Hematocrit","t":"p","x":97.5,"y":37.7,"n":1},
{"r":"Platelet","c":"Hematocrit","t":"l","x":8,"y":42},{"r":"Platelet","c":"Hematocrit","t":"l","x":96,"y":36},

{"r":"SBP","c":"Na","t":"p","x":61.9,"y":75.5,"n":25},{"r":"SBP","c":"Na","t":"p","x":77,"y":75.5,"n":25},{"r":"SBP","c":"Na","t":"p","x":57.7,"y":45.3,"n":25},{"r":"SBP","c":"Na","t":"p","x":79.7,"y":45.3,"n":25},{"r":"SBP","c":"Na","t":"p","x":57.7,"y":17,"n":25},{"r":"SBP","c":"Na","t":"p","x":79.7,"y":17,"n":25},{"r":"SBP","c":"Na","t":"p","x":68.7,"y":60,"n":12},{"r":"SBP","c":"Na","t":"p","x":68.7,"y":31,"n":12},
{"r":"SBP","c":"Na","t":"p","x":68.7,"y":91.5,"n":6},{"r":"SBP","c":"Na","t":"p","x":49.5,"y":56.6,"n":6},{"r":"SBP","c":"Na","t":"p","x":48.1,"y":28.3,"n":6},{"r":"SBP","c":"Na","t":"p","x":92.8,"y":56.6,"n":6},{"r":"SBP","c":"Na","t":"p","x":92.1,"y":28.3,"n":6},
{"r":"SBP","c":"Na","t":"p","x":79.2,"y":96.6,"n":1},{"r":"SBP","c":"Na","t":"p","x":70.1,"y":92.9,"n":1},{"r":"SBP","c":"Na","t":"p","x":65.5,"y":90.3,"n":1},{"r":"SBP","c":"Na","t":"p","x":52.9,"y":82.5,"n":1},{"r":"SBP","c":"Na","t":"p","x":4.8,"y":55.1,"n":1},{"r":"SBP","c":"Na","t":"p","x":31.1,"y":47.8,"n":1},{"r":"SBP","c":"Na","t":"p","x":40.3,"y":55.7,"n":1},{"r":"SBP","c":"Na","t":"p","x":39.2,"y":33.7,"n":1},{"r":"SBP","c":"Na","t":"p","x":59.8,"y":11.7,"n":1},{"r":"SBP","c":"Na","t":"p","x":79.2,"y":7,"n":1},{"r":"SBP","c":"Na","t":"p","x":91.9,"y":80.8,"n":1},{"r":"SBP","c":"Na","t":"p","x":95,"y":67.9,"n":1},{"r":"SBP","c":"Na","t":"p","x":94.2,"y":24.2,"n":1},
{"r":"SBP","c":"Na","t":"l","x":4.8,"y":55},{"r":"SBP","c":"Na","t":"l","x":96,"y":50},

{"r":"SBP","c":"ALT","t":"p","x":7,"y":10,"n":6},{"r":"SBP","c":"ALT","t":"p","x":7,"y":19,"n":6},{"r":"SBP","c":"ALT","t":"p","x":7,"y":28,"n":6},{"r":"SBP","c":"ALT","t":"p","x":7,"y":37,"n":6},{"r":"SBP","c":"ALT","t":"p","x":7,"y":46,"n":6},{"r":"SBP","c":"ALT","t":"p","x":7,"y":55,"n":6},{"r":"SBP","c":"ALT","t":"p","x":7,"y":64,"n":6},{"r":"SBP","c":"ALT","t":"p","x":7,"y":73,"n":6},{"r":"SBP","c":"ALT","t":"p","x":7,"y":82,"n":6},{"r":"SBP","c":"ALT","t":"p","x":7,"y":91,"n":6},{"r":"SBP","c":"ALT","t":"p","x":7,"y":97,"n":6},
{"r":"SBP","c":"ALT","t":"p","x":15,"y":35,"n":6},{"r":"SBP","c":"ALT","t":"p","x":15,"y":45,"n":6},{"r":"SBP","c":"ALT","t":"p","x":15,"y":55,"n":6},{"r":"SBP","c":"ALT","t":"p","x":15,"y":65,"n":6},{"r":"SBP","c":"ALT","t":"p","x":15,"y":75,"n":6},{"r":"SBP","c":"ALT","t":"p","x":22,"y":42,"n":4},{"r":"SBP","c":"ALT","t":"p","x":22,"y":52,"n":4},{"r":"SBP","c":"ALT","t":"p","x":22,"y":60,"n":4},{"r":"SBP","c":"ALT","t":"p","x":28,"y":48,"n":1},{"r":"SBP","c":"ALT","t":"p","x":28,"y":38,"n":1},
{"r":"SBP","c":"ALT","t":"p","x":37.3,"y":49.6,"n":1},{"r":"SBP","c":"ALT","t":"p","x":47.6,"y":42.2,"n":1},{"r":"SBP","c":"ALT","t":"p","x":49.8,"y":41.5,"n":1},{"r":"SBP","c":"ALT","t":"p","x":33.8,"y":38.4,"n":1},{"r":"SBP","c":"ALT","t":"p","x":95.7,"y":37.2,"n":1},{"r":"SBP","c":"ALT","t":"p","x":13.2,"y":6.9,"n":1},{"r":"SBP","c":"ALT","t":"p","x":22.3,"y":35.3,"n":1},{"r":"SBP","c":"ALT","t":"p","x":12,"y":96,"n":1},{"r":"SBP","c":"ALT","t":"p","x":20,"y":85,"n":1},
{"r":"SBP","c":"ALT","t":"l","x":4,"y":49},{"r":"SBP","c":"ALT","t":"l","x":95.7,"y":26.4},
{"r":"SBP","c":"ALT","t":"b","x":4,"lo":47,"hi":51},{"r":"SBP","c":"ALT","t":"b","x":25,"lo":42.5,"hi":45},{"r":"SBP","c":"ALT","t":"b","x":50,"lo":35,"hi":40.4},{"r":"SBP","c":"ALT","t":"b","x":75,"lo":25.5,"hi":37.5},{"r":"SBP","c":"ALT","t":"b","x":95.7,"lo":14,"hi":39.2},

{"r":"SBP","c":"Creatinine","t":"p","x":18.1,"y":33.3,"n":1},{"r":"SBP","c":"Creatinine","t":"p","x":73.1,"y":22.9,"n":1},{"r":"SBP","c":"Creatinine","t":"p","x":96,"y":54.1,"n":1},
{"r":"SBP","c":"Creatinine","t":"p","x":5.5,"y":6,"n":2},{"r":"SBP","c":"Creatinine","t":"p","x":5.5,"y":12,"n":2},{"r":"SBP","c":"Creatinine","t":"p","x":5.5,"y":18,"n":2},{"r":"SBP","c":"Creatinine","t":"p","x":5.5,"y":24,"n":2},{"r":"SBP","c":"Creatinine","t":"p","x":5.5,"y":30,"n":2},{"r":"SBP","c":"Creatinine","t":"p","x":5.5,"y":36,"n":2},{"r":"SBP","c":"Creatinine","t":"p","x":5.5,"y":42,"n":2},{"r":"SBP","c":"Creatinine","t":"p","x":5.5,"y":48,"n":2},{"r":"SBP","c":"Creatinine","t":"p","x":5.5,"y":54,"n":2},{"r":"SBP","c":"Creatinine","t":"p","x":5.5,"y":60,"n":2},{"r":"SBP","c":"Creatinine","t":"p","x":5.5,"y":66,"n":2},{"r":"SBP","c":"Creatinine","t":"p","x":5.5,"y":72,"n":2},{"r":"SBP","c":"Creatinine","t":"p","x":5.5,"y":78,"n":2},{"r":"SBP","c":"Creatinine","t":"p","x":5.5,"y":84,"n":2},{"r":"SBP","c":"Creatinine","t":"p","x":5.5,"y":90,"n":2},{"r":"SBP","c":"Creatinine","t":"p","x":5.5,"y":96,"n":2},
{"r":"SBP","c":"Creatinine","t":"p","x":7.5,"y":40,"n":1},{"r":"SBP","c":"Creatinine","t":"p","x":7.5,"y":55,"n":1},
{"r":"SBP","c":"Creatinine","t":"l","x":5,"y":46.7},{"r":"SBP","c":"Creatinine","t":"l","x":96,"y":46.7},
{"r":"SBP","c":"Creatinine","t":"b","x":5,"lo":44.5,"hi":49},{"r":"SBP","c":"Creatinine","t":"b","x":20,"lo":45.5,"hi":48},{"r":"SBP","c":"Creatinine","t":"b","x":50,"lo":44,"hi":49.5},{"r":"SBP","c":"Creatinine","t":"b","x":75,"lo":39.5,"hi":54},{"r":"SBP","c":"Creatinine","t":"b","x":96,"lo":30.3,"hi":62.9},

{"r":"SBP","c":"Hematocrit","t":"p","x":24.1,"y":64.2,"n":31},{"r":"SBP","c":"Hematocrit","t":"p","x":43.3,"y":64.2,"n":31},{"r":"SBP","c":"Hematocrit","t":"p","x":62.5,"y":64.2,"n":31},{"r":"SBP","c":"Hematocrit","t":"p","x":81.1,"y":64.2,"n":31},{"r":"SBP","c":"Hematocrit","t":"p","x":24.1,"y":42.5,"n":31},{"r":"SBP","c":"Hematocrit","t":"p","x":43.3,"y":42.5,"n":31},{"r":"SBP","c":"Hematocrit","t":"p","x":62.5,"y":42.5,"n":31},{"r":"SBP","c":"Hematocrit","t":"p","x":81.1,"y":42.5,"n":31},{"r":"SBP","c":"Hematocrit","t":"p","x":24.1,"y":23.6,"n":31},{"r":"SBP","c":"Hematocrit","t":"p","x":43.3,"y":23.6,"n":31},{"r":"SBP","c":"Hematocrit","t":"p","x":62.5,"y":23.6,"n":31},{"r":"SBP","c":"Hematocrit","t":"p","x":81.1,"y":23.6,"n":31},
{"r":"SBP","c":"Hematocrit","t":"p","x":41.2,"y":83,"n":8},{"r":"SBP","c":"Hematocrit","t":"p","x":61.9,"y":84.9,"n":8},{"r":"SBP","c":"Hematocrit","t":"p","x":79,"y":81.1,"n":8},{"r":"SBP","c":"Hematocrit","t":"p","x":10.3,"y":42.5,"n":8},{"r":"SBP","c":"Hematocrit","t":"p","x":94.8,"y":42.5,"n":8},{"r":"SBP","c":"Hematocrit","t":"p","x":13.7,"y":23.6,"n":8},{"r":"SBP","c":"Hematocrit","t":"p","x":92.8,"y":20.8,"n":6},{"r":"SBP","c":"Hematocrit","t":"p","x":48.1,"y":7.5,"n":6},{"r":"SBP","c":"Hematocrit","t":"p","x":68.7,"y":7.5,"n":6},
{"r":"SBP","c":"Hematocrit","t":"p","x":75.7,"y":96.6,"n":1},{"r":"SBP","c":"Hematocrit","t":"p","x":50.5,"y":93.5,"n":1},{"r":"SBP","c":"Hematocrit","t":"p","x":57.4,"y":91.9,"n":1},{"r":"SBP","c":"Hematocrit","t":"p","x":32.2,"y":78.2,"n":1},{"r":"SBP","c":"Hematocrit","t":"p","x":24.2,"y":70.8,"n":1},{"r":"SBP","c":"Hematocrit","t":"p","x":16.2,"y":61.9,"n":1},{"r":"SBP","c":"Hematocrit","t":"p","x":9.3,"y":46.7,"n":1},{"r":"SBP","c":"Hematocrit","t":"p","x":11.5,"y":29,"n":1},{"r":"SBP","c":"Hematocrit","t":"p","x":94,"y":78.2,"n":1},{"r":"SBP","c":"Hematocrit","t":"p","x":96.4,"y":61.9,"n":1},{"r":"SBP","c":"Hematocrit","t":"p","x":50.5,"y":8,"n":1},{"r":"SBP","c":"Hematocrit","t":"p","x":29.9,"y":16.4,"n":1},{"r":"SBP","c":"Hematocrit","t":"p","x":5.8,"y":37.7,"n":1},
{"r":"SBP","c":"Hematocrit","t":"l","x":6,"y":40},{"r":"SBP","c":"Hematocrit","t":"l","x":96,"y":46},

{"r":"SBP","c":"Platelet","t":"p","x":20.6,"y":66,"n":25},{"r":"SBP","c":"Platelet","t":"p","x":37.8,"y":66,"n":25},{"r":"SBP","c":"Platelet","t":"p","x":52.2,"y":66,"n":25},{"r":"SBP","c":"Platelet","t":"p","x":20.6,"y":42.5,"n":25},{"r":"SBP","c":"Platelet","t":"p","x":37.8,"y":42.5,"n":25},{"r":"SBP","c":"Platelet","t":"p","x":52.2,"y":42.5,"n":25},{"r":"SBP","c":"Platelet","t":"p","x":20.6,"y":20.8,"n":25},{"r":"SBP","c":"Platelet","t":"p","x":37.8,"y":20.8,"n":25},{"r":"SBP","c":"Platelet","t":"p","x":52.2,"y":20.8,"n":25},
{"r":"SBP","c":"Platelet","t":"p","x":58.4,"y":56.6,"n":6},{"r":"SBP","c":"Platelet","t":"p","x":60.5,"y":33,"n":6},{"r":"SBP","c":"Platelet","t":"p","x":42.6,"y":83,"n":6},{"r":"SBP","c":"Platelet","t":"p","x":8.2,"y":47.2,"n":6},{"r":"SBP","c":"Platelet","t":"p","x":30.9,"y":84.9,"n":4},{"r":"SBP","c":"Platelet","t":"p","x":41.2,"y":7.5,"n":4},{"r":"SBP","c":"Platelet","t":"p","x":13.7,"y":18.9,"n":4},
{"r":"SBP","c":"Platelet","t":"p","x":35.9,"y":91.2,"n":1},{"r":"SBP","c":"Platelet","t":"p","x":47.4,"y":86.8,"n":1},{"r":"SBP","c":"Platelet","t":"p","x":26.8,"y":90.3,"n":1},{"r":"SBP","c":"Platelet","t":"p","x":14.2,"y":73.4,"n":1},{"r":"SBP","c":"Platelet","t":"p","x":58.9,"y":73.4,"n":1},{"r":"SBP","c":"Platelet","t":"p","x":5,"y":61.4,"n":1},{"r":"SBP","c":"Platelet","t":"p","x":72.6,"y":52.5,"n":1},{"r":"SBP","c":"Platelet","t":"p","x":84.1,"y":50,"n":1},{"r":"SBP","c":"Platelet","t":"p","x":95.5,"y":47.2,"n":1},{"r":"SBP","c":"Platelet","t":"p","x":77.2,"y":40.8,"n":1},{"r":"SBP","c":"Platelet","t":"p","x":70.3,"y":40,"n":1},{"r":"SBP","c":"Platelet","t":"p","x":74.9,"y":22.9,"n":1},{"r":"SBP","c":"Platelet","t":"p","x":78.4,"y":24.3,"n":1},{"r":"SBP","c":"Platelet","t":"p","x":47.4,"y":12.5,"n":1},{"r":"SBP","c":"Platelet","t":"p","x":55.5,"y":11.7,"n":1},{"r":"SBP","c":"Platelet","t":"p","x":38.3,"y":13.2,"n":1},{"r":"SBP","c":"Platelet","t":"p","x":65.3,"y":49,"n":1},{"r":"SBP","c":"Platelet","t":"p","x":89.3,"y":48.1,"n":1},
{"r":"SBP","c":"Platelet","t":"l","x":5,"y":45},{"r":"SBP","c":"Platelet","t":"l","x":96,"y":48}
]}
}
